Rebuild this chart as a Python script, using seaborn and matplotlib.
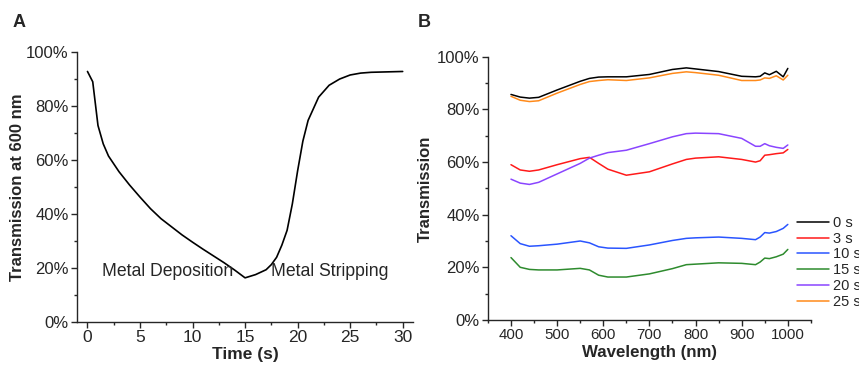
import numpy as np
import pandas as pd
import matplotlib.pyplot as plt
import seaborn as sns
from matplotlib.ticker import PercentFormatter, MultipleLocator

# Panel A: transmission at 600 nm vs time
time_s = [0, 0.5, 1, 1.5, 2, 3, 4, 5, 6, 7, 8, 9, 10, 11, 12, 13, 14, 15,
          16, 17, 17.5, 18, 18.5, 19, 19.5, 20, 20.5, 21, 22, 23, 24, 25,
          26, 27, 28, 30]
trans_600 = [92.8, 89.0, 72.8, 66.0, 61.5, 55.7, 50.8, 46.3, 42.0, 38.3,
             35.3, 32.3, 29.6, 27.0, 24.5, 22.0, 19.3, 16.4, 17.6, 19.4,
             21.3, 24.0, 28.5, 34.0, 43.8, 56.0, 67.0, 74.7, 83.3, 87.7,
             90.0, 91.5, 92.2, 92.5, 92.6, 92.8]

# Panel B: spectra at several times
wavelength = [400, 420, 440, 460, 500, 550, 570, 590, 610, 650, 700, 750,
              780, 800, 850, 900, 930, 940, 950, 960, 975, 990, 1000]
t0 = [85.7, 84.7, 84.3, 84.6, 87.4, 90.7, 91.8, 92.3, 92.4, 92.4, 93.3, 95.2,
      95.8, 95.4, 94.4, 92.6, 92.4, 92.6, 93.9, 93.2, 94.5, 92.4, 95.6]
t3 = [59.0, 57.0, 56.5, 57.0, 59.0, 61.3, 61.8, 59.5, 57.3, 55.0, 56.3, 59.3,
      61.0, 61.5, 62.0, 61.0, 60.0, 60.5, 62.6, 62.8, 63.2, 63.5, 64.8]
t10 = [32.0, 29.0, 28.0, 28.2, 28.8, 30.0, 29.3, 27.8, 27.3, 27.2, 28.5, 30.2,
       31.0, 31.2, 31.5, 31.0, 30.5, 31.5, 33.2, 33.0, 33.6, 34.8, 36.3]
t15 = [23.7, 20.0, 19.2, 19.0, 19.0, 19.6, 19.0, 17.0, 16.3, 16.3, 17.5, 19.5,
       21.0, 21.2, 21.7, 21.5, 21.0, 22.0, 23.5, 23.3, 24.0, 25.0, 26.8]
t20 = [53.5, 52.0, 51.5, 52.3, 55.5, 59.5, 61.5, 62.6, 63.6, 64.5, 67.0, 69.6,
       70.8, 71.0, 70.8, 69.0, 66.0, 66.0, 67.0, 66.2, 65.6, 65.2, 66.5]
t25 = [85.0, 83.5, 83.0, 83.3, 86.2, 89.5, 90.6, 91.0, 91.3, 91.0, 92.0, 93.7,
       94.3, 94.0, 93.0, 91.0, 91.0, 91.2, 92.0, 91.8, 92.8, 91.2, 93.0]

series_labels = ["0 s", "3 s", "10 s", "15 s", "20 s", "25 s"]
series_values = [t0, t3, t10, t15, t20, t25]
line_colors = ["#000000", "#ff1a1a", "#2a55ff", "#2e8b2e", "#8a45ff", "#ff8a1a"]

df_a = pd.DataFrame({"Time": time_s, "T": trans_600})
df_b = pd.concat(
    [pd.DataFrame({"Wavelength": wavelength, "T": v, "Time": lab})
     for lab, v in zip(series_labels, series_values)],
    ignore_index=True,
)

sns.set_style("ticks")
plt.rcParams["font.family"] = ["Liberation Sans", "DejaVu Sans"]

fig = plt.figure(figsize=(8.59, 3.69), dpi=100)
ax1 = fig.add_axes([0.0896, 0.127, 0.3914, 0.732])
ax2 = fig.add_axes([0.568, 0.133, 0.376, 0.713])

sns.lineplot(data=df_a, x="Time", y="T", color="black", lw=1.2, ax=ax1)
ax1.set_xlim(-1, 31)
ax1.set_ylim(0, 100)
ax1.xaxis.set_major_locator(MultipleLocator(5))
ax1.xaxis.set_minor_locator(MultipleLocator(2.5))
ax1.set_xlabel("Time (s)", fontsize=12.5, fontweight="bold", labelpad=1)
ax1.set_ylabel("Transmission at 600 nm", fontsize=12, fontweight="bold", labelpad=1)
ax1.tick_params(axis="x", labelsize=12.5)
ax1.text(1.4, 17.0, "Metal Deposition", fontsize=12.7)
ax1.text(17.5, 17.0, "Metal Stripping", fontsize=12.7)

sns.lineplot(data=df_b, x="Wavelength", y="T", hue="Time",
             palette=line_colors, lw=1.1, ax=ax2)
ax2.set_xlim(350, 1050)
ax2.set_ylim(0, 100)
ax2.xaxis.set_major_locator(MultipleLocator(100))
ax2.xaxis.set_minor_locator(MultipleLocator(50))
ax2.set_xlabel("Wavelength (nm)", fontsize=12.2, fontweight="bold", labelpad=2)
ax2.set_ylabel("Transmission", fontsize=12, fontweight="bold", labelpad=3)
ax2.tick_params(axis="x", labelsize=10.8)
ax2.legend(title=None, frameon=False, loc="upper left", fontsize=10.5,
           bbox_to_anchor=(797 / 859, 1 - 216 / 369), bbox_transform=fig.transFigure,
           handlelength=2.2, handletextpad=0.25, labelspacing=0.12,
           borderaxespad=0, borderpad=0)

for ax in (ax1, ax2):
    ax.yaxis.set_major_locator(MultipleLocator(20))
    ax.yaxis.set_minor_locator(MultipleLocator(10))
    ax.yaxis.set_major_formatter(PercentFormatter(decimals=0))
    ax.tick_params(axis="y", labelsize=12)
    ax.tick_params(which="major", direction="out", length=4, width=1, pad=2)
    ax.tick_params(which="minor", direction="out", length=2.5, width=1)
    sns.despine(ax=ax)
    for s in ("left", "bottom"):
        ax.spines[s].set_linewidth(1)

fig.text(13 / 859, 1 - 27 / 369, "A", fontsize=13, fontweight="bold")
fig.text(418 / 859, 1 - 27 / 369, "B", fontsize=13, fontweight="bold")

fig.savefig("out.png", dpi=100)
